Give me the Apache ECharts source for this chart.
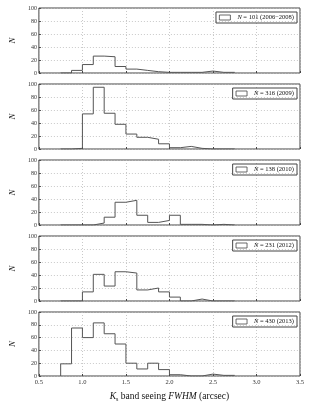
<!DOCTYPE html>
<html><head><meta charset="utf-8">
<script src="https://cdn.jsdelivr.net/npm/echarts@6/dist/echarts.min.js"></script>
<style>html,body{margin:0;padding:0;background:#fff}#c{width:310px;height:403px}</style>
</head><body><div id="c"></div>
<script>
// Bin edges (arcsec)
const binEdges = [0.75,0.875,1.0,1.125,1.25,1.375,1.5,1.625,1.75,1.875,2.0,2.125,2.25,2.375,2.5,2.625,2.75];
// Counts per bin for each period
const counts2006_2008 = [0,4,13,26,25,10,6,4,2,1,1,1,1,3,1,1];
const counts2009 = [0,1,54,95,55,38,23,18,15,8,2,4,1,0,0,0];
const counts2010 = [0,0,0,3,12,35,38,15,4,7,15,1,1,0,1,0];
const counts2012 = [0,0,14,41,23,45,43,17,20,14,6,0,3,0,0,0];
const counts2013 = [19,75,60,83,66,50,20,11,20,10,2,0,0,3,1,1];
const legendNames = ['N = 101 (2006\u22122008)','N = 316 (2009)','N = 138 (2010)','N = 231 (2012)','N = 430 (2013)'];
const xTicks = ['0.5','1.0','1.5','2.0','2.5','3.0','3.5'];
const yTicks = [0,20,40,60,80,100];

const panels = [counts2006_2008, counts2009, counts2010, counts2012, counts2013];
const SERIF = '"Liberation Serif","DejaVu Serif",serif';
const tops = [8,84,160,236,312];
const H = 65;

function stepData(counts){
  const d = [[binEdges[0],0]];
  counts.forEach((v,i)=>d.push([binEdges[i],v]));
  d.push([binEdges[binEdges.length-1],0]);
  return d;
}

const grid=[], xAxis=[], yAxis=[], series=[], legend=[];
panels.forEach((counts,k)=>{
  const last = k===panels.length-1;
  grid.push({left:27,right:10,top:tops[k],height:H,show:true,borderColor:'#444',borderWidth:1,backgroundColor:'transparent'});
  xAxis.push({type:'value',gridIndex:k,min:0.5,max:3.5,interval:0.5,
    axisLine:{show:false},
    axisTick:{show:true,inside:true,length:2,lineStyle:{color:'#444'}},
    splitLine:{show:true,lineStyle:{type:[1,2],color:'#bbb',width:0.8}},
    axisLabel:{show:last,fontFamily:SERIF,fontSize:6.5,color:'#333',margin:3,
      formatter:v=>xTicks[Math.round((v-0.5)/0.5)]},
    name:last?'{i|K}{sub|s} band seeing {i|FWHM} (arcsec)':'',
    nameLocation:'middle',nameGap:14,
    nameTextStyle:{fontFamily:SERIF,fontSize:9.5,color:'#111',
      rich:{i:{fontStyle:'italic',fontFamily:SERIF,fontSize:9.5,color:'#111'},
            sub:{fontFamily:SERIF,fontSize:6,color:'#111',verticalAlign:'bottom',padding:[6,0,0,0]}}}
  });
  yAxis.push({type:'value',gridIndex:k,min:0,max:100,interval:20,
    axisLine:{show:false},
    axisTick:{show:true,inside:true,length:2,lineStyle:{color:'#444'}},
    splitLine:{show:true,lineStyle:{type:[1,2],color:'#bbb',width:0.8}},
    axisLabel:{fontFamily:SERIF,fontSize:6,color:'#333',margin:2,
      formatter:v=>yTicks.includes(v)?String(v):''},
    name:'N',nameLocation:'middle',nameGap:15,
    nameTextStyle:{fontFamily:SERIF,fontStyle:'italic',fontSize:9,color:'#111'}
  });
  series.push({type:'line',name:legendNames[k],xAxisIndex:k,yAxisIndex:k,step:'end',
    data:stepData(counts),symbol:'none',silent:true,
    lineStyle:{color:'#555',width:1},itemStyle:{color:'#fff',borderColor:'#444',borderWidth:1}});
  legend.push({data:[{name:legendNames[k],icon:'rect'}],right:13,top:tops[k]+4,orient:'vertical',
    borderColor:'#444',borderWidth:1,borderRadius:0,padding:[2,3,2,3],
    itemWidth:11,itemHeight:5,itemGap:0,
    itemStyle:{color:'#fff',borderColor:'#444',borderWidth:0.8},
    formatter:n=>'{i|N}'+n.slice(1),
    textStyle:{fontFamily:SERIF,fontSize:6.5,color:'#111',padding:[0,0,0,2],
      rich:{i:{fontStyle:'italic',fontFamily:SERIF,fontSize:6.5,color:'#111'}}},
    selectedMode:false});
});

const chart = echarts.init(document.getElementById('c'),null,{renderer:'canvas'});
chart.setOption({animation:false,backgroundColor:'#fff',grid,xAxis,yAxis,series,legend});
</script></body></html>
